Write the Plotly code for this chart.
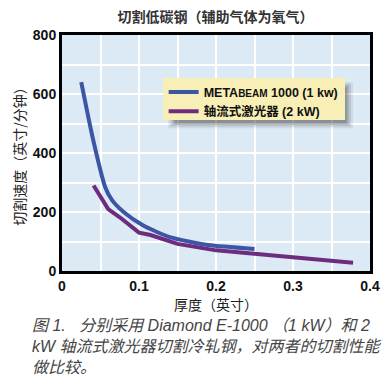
import plotly.graph_objects as go

# Data
blue_x = [0.025, 0.040, 0.056, 0.065, 0.080, 0.105, 0.140, 0.190, 0.250]
blue_y = [640, 450, 285, 240, 200, 155, 115, 88, 75]
purple_x = [0.041, 0.060, 0.075, 0.100, 0.115, 0.150, 0.200, 0.250, 0.300, 0.378]
purple_y = [290, 210, 182, 130, 122, 92, 70, 58, 46, 28]

blue_name = "META<span style='font-size:10px'>BEAM</span> 1000 (1 kw)"
purple_name = "轴流式激光器 (2 kW)"

x_ticks = [0, 0.1, 0.2, 0.3, 0.4]
x_ticktext = ["0", "0.1", "0.2", "0.3", "0.4"]
y_ticks = [0, 200, 400, 600, 800]

title = "切割低碳钢（辅助气体为氧气）"
x_title = "厚度（英寸）"
y_title = "切割速度（英寸/分钟）"
NB = "\u00a0"
caption = ["图 1." + NB * 3 + "分别采用" + NB + "Diamond" + NB + "E-1000" + NB + "（1" + NB + "kW）和" + NB + "2",
           "kW 轴流式激光器切割冷轧钢，对两者的切割性能",
           "做比较。"]

FONT = "Liberation Sans, Noto Sans CJK SC, sans-serif"

fig = go.Figure()
fig.add_trace(go.Scatter(x=blue_x, y=blue_y, mode="lines", name=blue_name,
                         line=dict(color="#3C55A5", width=4, shape="spline", smoothing=0.6)))
fig.add_trace(go.Scatter(x=purple_x, y=purple_y, mode="lines", name=purple_name,
                         line=dict(color="#6E2C7E", width=4)))

fig.update_layout(
    width=392, height=386,
    margin=dict(l=62, r=22, t=35, b=115, autoexpand=False),
    paper_bgcolor="white",
    plot_bgcolor="#DCEAF6",
    font=dict(family=FONT, color="#111"),
    showlegend=True,
    legend=dict(x=0.33, y=0.82, xanchor="left", yanchor="top",
                bgcolor="rgba(0,0,0,0)", borderwidth=0,
                font=dict(size=12.5, family="Liberation Sans, Noto Sans CJK SC", color="#111", weight="bold"),
                itemwidth=30, tracegroupgap=0),
    title=dict(text=title, x=0.55, xanchor="center", y=0.955, yanchor="middle",
               font=dict(size=14, color="#333", family="Noto Sans CJK SC", weight="bold")),
)

fig.update_xaxes(range=[0, 0.4], tickvals=x_ticks, ticktext=x_ticktext, automargin=False,
                 showline=True, linecolor="black", linewidth=3, mirror=True,
                 showgrid=True, gridcolor="white", gridwidth=2,
                 minor=dict(dtick=0.05, showgrid=True, gridcolor="white", gridwidth=2),
                 ticks="", zeroline=False,
                 tickfont=dict(size=14, color="#111", family="Liberation Sans", weight="bold"),
                 title=dict(text=x_title, standoff=0,
                            font=dict(size=14, color="#222", family="Noto Sans CJK SC")))
fig.update_yaxes(range=[0, 800], tickvals=y_ticks, automargin=False,
                 showline=True, linecolor="black", linewidth=3, mirror=True,
                 showgrid=True, gridcolor="white", gridwidth=2,
                 minor=dict(dtick=100, showgrid=True, gridcolor="white", gridwidth=2),
                 ticks="", zeroline=False,
                 tickfont=dict(size=14, color="#111", family="Liberation Sans", weight="bold"),
                 title=dict(text=y_title, standoff=4,
                            font=dict(size=14, color="#222", family="Noto Sans CJK SC")))

# soft legend shadow (bottom-right)
for k, a in enumerate([0.08, 0.12, 0.16, 0.2]):
    d = k * 0.007
    fig.add_shape(type="rect", xref="paper", yref="paper",
                  x0=0.345 + d, x1=0.945 - d, y0=0.605 + d, y1=0.80 - d,
                  fillcolor=f"rgba(40,40,40,{a})", line=dict(width=0), layer="above")
# legend box
fig.add_shape(type="rect", xref="paper", yref="paper",
              x0=0.328, x1=0.919, y0=0.64, y1=0.818,
              fillcolor="#F8EFB6", line=dict(width=0), layer="above")

caption_y = [-0.229, -0.322, -0.411]
for line, cy in zip(caption, caption_y):
    fig.add_annotation(text="<i>" + line + "</i>", xref="paper", yref="paper",
                       x=-0.104, xanchor="left", y=cy, yanchor="middle",
                       showarrow=False,
                       font=dict(size=16, color="#444", family="Liberation Sans, Noto Sans CJK SC"))

fig.write_html("out.html", config={"displayModeBar": False},
               post_script="document.body.style.margin='0';document.body.style.overflow='hidden';")
